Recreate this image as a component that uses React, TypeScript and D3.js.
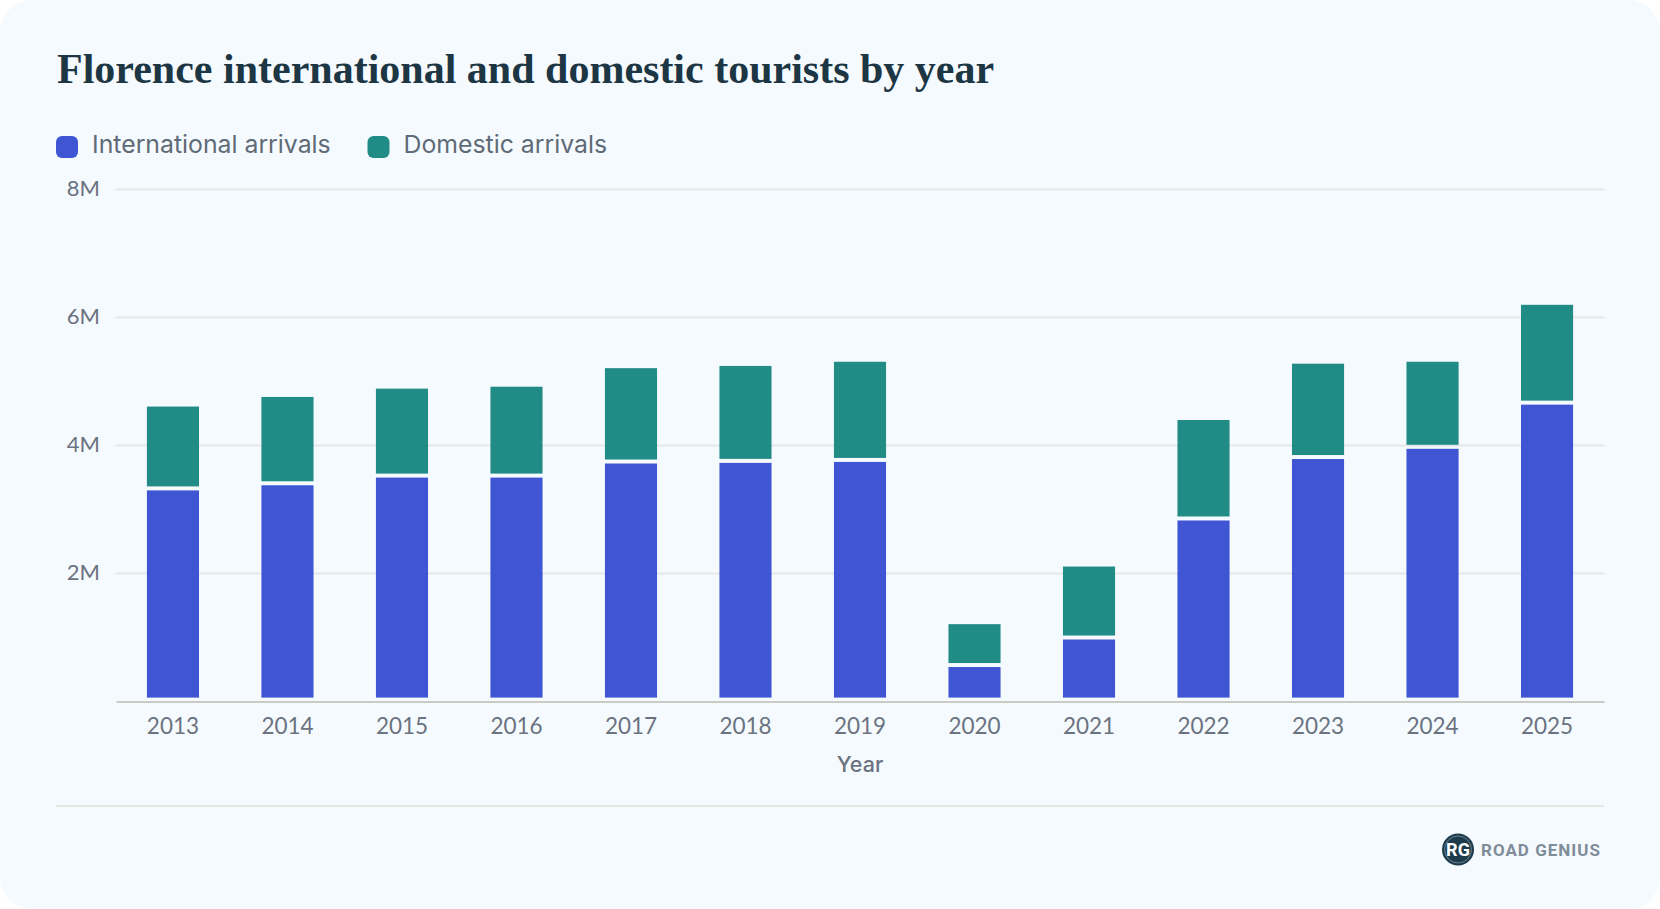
import React, { useEffect, useRef } from "react";
import * as d3 from "d3";

const years = ["2013", "2014", "2015", "2016", "2017", "2018", "2019", "2020", "2021", "2022", "2023", "2024", "2025"];
const international = [3.3, 3.38, 3.5, 3.5, 3.72, 3.73, 3.745, 0.54, 0.97, 2.83, 3.79, 3.95, 4.64];
const domestic = [1.31, 1.38, 1.39, 1.42, 1.49, 1.515, 1.565, 0.67, 1.14, 1.57, 1.49, 1.36, 1.56];
const yTicks = [2, 4, 6, 8];
const seriesKeys = ["International arrivals", "Domestic arrivals"];
const seriesColors = ["#3f55d3", "#218b86"];

const width = 1660;
const height = 909;
const margin = { top: 189.6, right: 56, bottom: 207.4, left: 116 };
const sansFont = "Lato, sans-serif";
const uiFont = "Inter, sans-serif";
const textColor = "#6b7280";

export default function App() {
  const svgRef = useRef<SVGSVGElement>(null);

  useEffect(() => {
    if (!svgRef.current) return;
    const svg = d3.select(svgRef.current);
    svg.selectAll("*").remove();

    // Card
    svg.append("rect").attr("width", width).attr("height", height).attr("rx", 32).attr("fill", "#f5faff");

    // Title
    svg.append("text")
      .attr("x", 57)
      .attr("y", 83)
      .attr("font-family", "'Liberation Serif', serif")
      .attr("font-weight", 700)
      .attr("font-size", 42)
      .attr("fill", "#1d3644")
      .text("Florence international and domestic tourists by year");

    // Legend
    const legendX = [56, 367.5];
    seriesKeys.forEach((name, i) => {
      svg.append("rect")
        .attr("x", legendX[i])
        .attr("y", 136)
        .attr("width", 22)
        .attr("height", 22)
        .attr("rx", 6)
        .attr("fill", seriesColors[i]);
      svg.append("text")
        .attr("x", legendX[i] + 36)
        .attr("y", 153)
        .attr("font-family", uiFont)
        .attr("font-size", 24.8)
        .attr("fill", "#5f6b76")
        .text(name);
    });

    const innerBottom = height - margin.bottom;
    const x = d3.scaleBand<string>().domain(years).range([margin.left, width - margin.right]).paddingInner(0.545).paddingOuter(0.27);
    const y = d3.scaleLinear().domain([0, 8]).range([innerBottom, margin.top]);

    // Grid lines
    svg.append("g")
      .selectAll("line")
      .data(yTicks)
      .enter()
      .append("line")
      .attr("x1", margin.left - 0.5)
      .attr("x2", width - margin.right)
      .attr("y1", d => y(d))
      .attr("y2", d => y(d))
      .attr("stroke", "#e6e8e6")
      .attr("stroke-width", 2);

    // Stacked bars, each segment leaves a 4px gap under it
    const rows = years.map((year, i) => ({ year, international: international[i], domestic: domestic[i] }));
    const stacked = d3.stack<any>().keys(["international", "domestic"])(rows);
    const gap = 4;
    stacked.forEach((layer, i) => {
      svg.append("g")
        .selectAll("rect")
        .data(layer)
        .enter()
        .append("rect")
        .attr("x", d => x(d.data.year) as number)
        .attr("width", x.bandwidth())
        .attr("y", d => y(d[1]))
        .attr("height", d => y(d[0]) - y(d[1]) - gap)
        .attr("fill", seriesColors[i]);
    });

    // Y axis
    const yAxis = d3.axisLeft(y).tickValues(yTicks).tickSize(0).tickPadding(16).tickFormat(d => `${d}M`);
    const yG = svg.append("g").attr("transform", `translate(${margin.left},-1)`).call(yAxis);
    yG.select(".domain").remove();
    yG.selectAll("text").attr("font-family", sansFont).attr("font-size", 22).attr("fill", textColor);

    // X axis
    const xAxis = d3.axisBottom(x).tickSize(0).tickPadding(16);
    const xG = svg.append("g").attr("transform", `translate(0,${innerBottom})`).call(xAxis);
    xG.select(".domain").attr("stroke", "#c9cbc4").attr("stroke-width", 2);
    xG.selectAll("text").attr("font-family", sansFont).attr("font-size", 22.5).attr("fill", textColor);

    // X axis label
    svg.append("text")
      .attr("x", 860)
      .attr("y", 771.5)
      .attr("text-anchor", "middle")
      .attr("font-family", uiFont)
      .attr("font-weight", 500)
      .attr("font-size", 21.5)
      .attr("fill", textColor)
      .text("Year");

    // Footer rule
    svg.append("line")
      .attr("x1", 56)
      .attr("x2", width - margin.right)
      .attr("y1", 806)
      .attr("y2", 806)
      .attr("stroke", "#e3e8e4")
      .attr("stroke-width", 2);

    // Logo
    const logo = svg.append("g");
    logo.append("circle").attr("cx", 1458).attr("cy", 849.5).attr("r", 16).attr("fill", "#1d3b4b");
    logo.append("circle").attr("cx", 1458).attr("cy", 849.5).attr("r", 13.5).attr("fill", "none").attr("stroke", "#7f95a3").attr("stroke-width", 0.8);
    logo.append("text")
      .attr("x", 1458)
      .attr("y", 856)
      .attr("text-anchor", "middle")
      .attr("font-family", "'Roboto', sans-serif")
      .attr("font-weight", 700)
      .attr("font-size", 18)
      .attr("fill", "#ffffff")
      .text("RG");
    logo.append("text")
      .attr("x", 1481)
      .attr("y", 855.5)
      .attr("font-family", "'Roboto', sans-serif")
      .attr("font-weight", 700)
      .attr("font-size", 17)
      .attr("letter-spacing", 1)
      .attr("fill", "#7f8d99")
      .text("ROAD GENIUS");
  }, []);

  return (
    <svg
      ref={svgRef}
      width={width}
      height={height}
      style={{ position: "absolute", left: 0, top: 0, display: "block", background: "#ffffff" }}
    />
  );
}
